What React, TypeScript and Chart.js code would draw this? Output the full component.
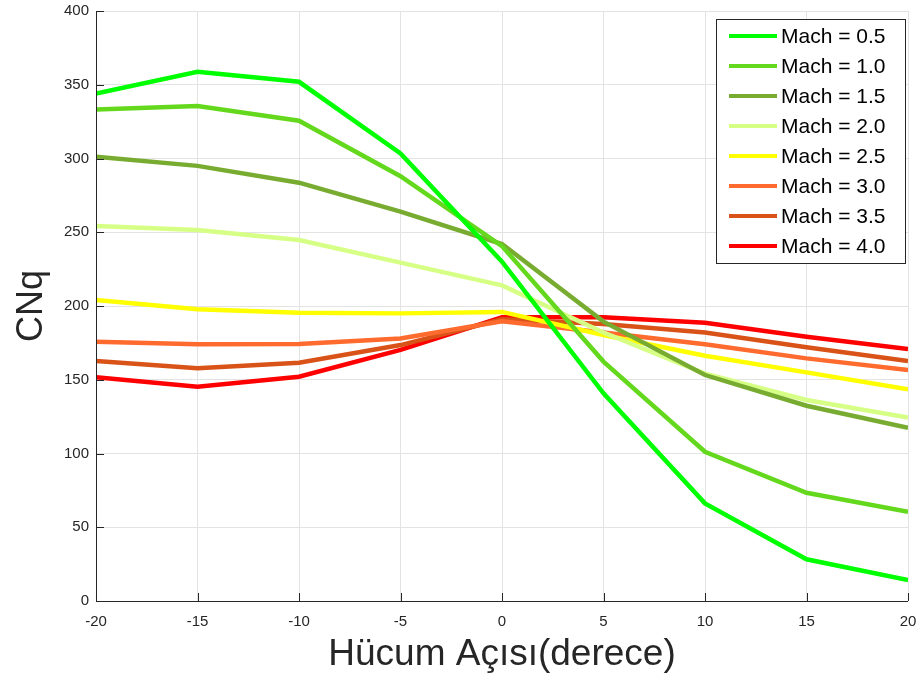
import { useEffect, useRef } from "react";
import { Chart, registerables } from "chart.js";

Chart.register(...registerables);

const angles = [-20, -15, -10, -5, 0, 5, 10, 15, 20];
const machLabels = ["Mach = 0.5", "Mach = 1.0", "Mach = 1.5", "Mach = 2.0", "Mach = 2.5", "Mach = 3.0", "Mach = 3.5", "Mach = 4.0"];
const mach05 = [344, 358.8, 352, 303.5, 230, 140.8, 66.2, 28.3, 14.2];
const mach10 = [333.3, 335.6, 325.6, 288, 240.6, 162.3, 101.2, 73.4, 60.5];
const mach15 = [301.2, 295, 283.6, 264, 242, 189.4, 153.2, 132.4, 117.5];
const mach20 = [254.2, 251.5, 244.7, 229.4, 214, 182, 154.2, 136.3, 124.3];
const mach25 = [204, 197.8, 195.5, 195, 196, 180.3, 166.3, 155, 143.5];
const mach30 = [175.8, 174, 174.2, 178, 189.6, 182, 174, 164.5, 156.6];
const mach35 = [162.7, 157.8, 161.6, 173.5, 191, 187.8, 182, 172, 162.7];
const mach40 = [151.7, 145.3, 152, 170.2, 192.3, 192.3, 188.7, 179.2, 170.8];
const seriesValues = [mach05, mach10, mach15, mach20, mach25, mach30, mach35, mach40];
const seriesColors = ["#00FF00", "#64D81C", "#77AC30", "#D6FF85", "#FFFF00", "#FF6B2E", "#D95319", "#FF0000"];
const xTitle = "Hücum Açısı(derece)";
const yTitle = "CNq";

const FONT = "'Liberation Sans', Arial, Helvetica, sans-serif";
const AXIS = "#262626";

const decorPlugin = {
  id: "decor",
  afterDatasetsDraw(chart: any) {
    const { ctx, chartArea, scales } = chart;
    const { left, right, top, bottom } = chartArea;
    ctx.save();
    ctx.strokeStyle = AXIS;
    ctx.lineWidth = 1;
    ctx.beginPath();
    ctx.moveTo(left + 0.5, top);
    ctx.lineTo(left + 0.5, bottom + 0.5);
    ctx.lineTo(right, bottom + 0.5);
    ctx.stroke();
    const tl = 8;
    ctx.beginPath();
    scales.x.ticks.forEach((t: any) => {
      const px = Math.round(scales.x.getPixelForValue(t.value)) + 0.5;
      ctx.moveTo(px, bottom);
      ctx.lineTo(px, bottom - tl);
    });
    scales.y.ticks.forEach((t: any) => {
      const py = Math.round(scales.y.getPixelForValue(t.value)) + 0.5;
      ctx.moveTo(left, py);
      ctx.lineTo(left + tl, py);
    });
    ctx.stroke();
    ctx.restore();
  },
  afterDraw(chart: any) {
    const { ctx, chartArea } = chart;
    ctx.save();
    ctx.fillStyle = AXIS;
    ctx.font = `37px ${FONT}`;
    ctx.textAlign = "center";
    ctx.textBaseline = "alphabetic";
    ctx.fillText(xTitle, (chartArea.left + chartArea.right) / 2, 665);
    ctx.save();
    ctx.translate(42, (chartArea.top + chartArea.bottom) / 2);
    ctx.rotate(-Math.PI / 2);
    ctx.font = `36px ${FONT}`;
    ctx.fillText(yTitle, 0, 0);
    ctx.restore();
    const bx = 716.5, by = 19.5, bw = 189, bh = 244;
    ctx.fillStyle = "#ffffff";
    ctx.fillRect(bx, by, bw, bh);
    ctx.strokeStyle = AXIS;
    ctx.lineWidth = 1;
    ctx.strokeRect(bx, by, bw, bh);
    ctx.font = `21px ${FONT}`;
    ctx.textAlign = "left";
    ctx.textBaseline = "middle";
    chart.data.datasets.forEach((ds: any, i: number) => {
      const cy = 36 + i * 30;
      ctx.strokeStyle = ds.borderColor;
      ctx.lineWidth = 4;
      ctx.beginPath();
      ctx.moveTo(729, cy);
      ctx.lineTo(777, cy);
      ctx.stroke();
      ctx.fillStyle = "#000000";
      ctx.fillText(ds.label, 781, cy + 1);
    });
    ctx.restore();
  },
};

export default function App() {
  const ref = useRef<HTMLCanvasElement | null>(null);
  useEffect(() => {
    document.body.style.margin = "0";
    const canvas = ref.current!;
    const chart = new Chart(canvas, {
      type: "line",
      data: {
        datasets: seriesValues.map((vals, i) => ({
          label: machLabels[i],
          data: angles.map((a, j) => ({ x: a, y: vals[j] })),
          borderColor: seriesColors[i],
          backgroundColor: seriesColors[i],
          borderWidth: 4.5,
          pointRadius: 0,
          tension: 0,
          fill: false,
        })),
      },
      options: {
        animation: false,
        responsive: false,
        maintainAspectRatio: false,
        devicePixelRatio: 1,
        layout: { padding: { top: 11, right: 14, left: 0, bottom: 0 } },
        plugins: { legend: { display: false }, tooltip: { enabled: false }, title: { display: false } },
        scales: {
          x: {
            type: "linear",
            min: -20,
            max: 20,
            ticks: { stepSize: 5, color: AXIS, font: { family: FONT, size: 15 }, padding: 12, maxRotation: 0 },
            grid: { color: "#e3e3e3", drawTicks: false, lineWidth: 1 },
            border: { display: false },
            afterFit: (s: any) => {
              s.height = 76;
              s.paddingLeft = 0;
              s.paddingRight = 0;
            },
          },
          y: {
            type: "linear",
            min: 0,
            max: 400,
            ticks: { stepSize: 50, color: AXIS, font: { family: FONT, size: 15 }, padding: 7 },
            grid: { color: "#e3e3e3", drawTicks: false, lineWidth: 1 },
            border: { display: false },
            afterFit: (s: any) => {
              s.width = 96;
              s.paddingTop = 0;
              s.paddingBottom = 0;
            },
          },
        },
      },
      plugins: [decorPlugin],
    });
    return () => chart.destroy();
  }, []);
  return (
    <div style={{ position: "absolute", left: 0, top: 0, width: 922, height: 677, background: "#fff" }}>
      <canvas ref={ref} width={922} height={677} style={{ width: 922, height: 677, display: "block" }} />
    </div>
  );
}
